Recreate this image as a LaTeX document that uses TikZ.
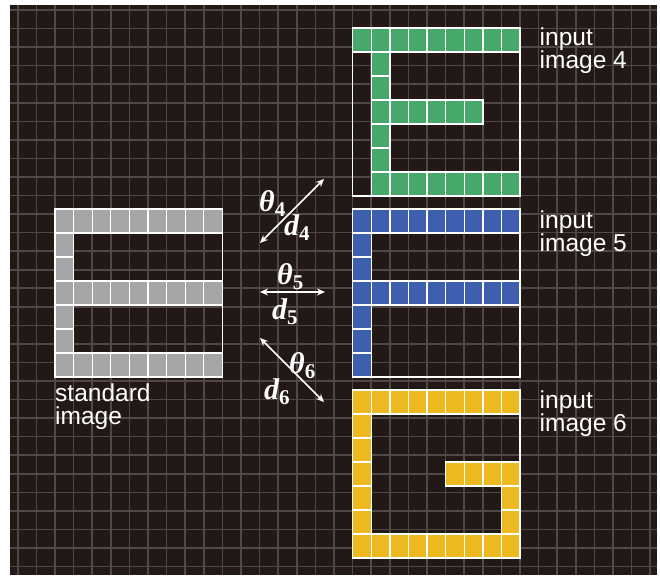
\documentclass[tikz,border=0pt]{standalone}
\usepackage{fontspec}
\newfontfamily\labelfont{Liberation Sans}
\newfontfamily\symfont{Liberation Serif}
\usetikzlibrary{arrows.meta}
\definecolor{bgdark}{RGB}{34,25,23}
\definecolor{gridcol}{RGB}{80,72,71}
\definecolor{pixgray}{RGB}{166,166,166}
\definecolor{pixgreen}{RGB}{70,168,106}
\definecolor{pixblue}{RGB}{62,94,176}
\definecolor{pixyellow}{RGB}{236,186,32}
\newcommand\mypixels[4]{%
  \foreach \cc/\rr in {#4} {
    \filldraw[pixel,fill=#3] ({#1+\cc*18.6},{#2+\rr*24}) rectangle ++(18.6,24);
  }%
}
\tikzset{
  pixel/.style={draw=white,line width=1.3pt},
  imgframe/.style={draw=white,line width=1.5pt,minimum width=167.4pt,minimum height=168pt,inner sep=0pt,outer sep=0pt,anchor=north west},
  caption/.style={text=white,font=\labelfont\fontsize{24.5}{24}\selectfont,anchor=base west,inner sep=0pt},
  sym/.style={text=white,font=\symfont\fontsize{30}{30}\selectfont\bfseries\itshape,anchor=base west,inner sep=0pt},
  dblarrow/.style={white,line width=1.5pt,{Stealth[length=8pt,width=7pt]}-{Stealth[length=8pt,width=7pt]}},
  gridline/.style={gridcol,line width=1.6pt},
}
\begin{document}
\begin{tikzpicture}[x=1pt,y=-1pt]
\useasboundingbox (0,0) rectangle (660,575);
\fill[white] (0,0) rectangle (660,575);
\fill[bgdark] (9.5,5) rectangle (657,575);
\foreach \k in {-2,...,32} \draw[gridline] ({55+18.6*\k},5) -- ({55+18.6*\k},575);
\foreach \k in {0,...,30} \draw[gridline] (9.5,{10+18.55*\k}) -- (657,{10+18.55*\k});

% standard image (E)
\mypixels{55}{209}{pixgray}{0/0,1/0,2/0,3/0,4/0,5/0,6/0,7/0,8/0,0/1,0/2,0/3,1/3,2/3,3/3,4/3,5/3,6/3,7/3,8/3,0/4,0/5,0/6,1/6,2/6,3/6,4/6,5/6,6/6,7/6,8/6}
\node[imgframe] (std) at (55,209) {};
% input image 4 (green)
\mypixels{352.7}{28}{pixgreen}{0/0,1/0,2/0,3/0,4/0,5/0,6/0,7/0,8/0,1/1,1/2,1/3,2/3,3/3,4/3,5/3,6/3,1/4,1/5,1/6,2/6,3/6,4/6,5/6,6/6,7/6,8/6}
\node[imgframe] (img4) at (352.7,28) {};
% input image 5 (blue)
\mypixels{352.7}{209}{pixblue}{0/0,1/0,2/0,3/0,4/0,5/0,6/0,7/0,8/0,0/1,0/2,0/3,1/3,2/3,3/3,4/3,5/3,6/3,7/3,8/3,0/4,0/5,0/6}
\node[imgframe] (img5) at (352.7,209) {};
% input image 6 (yellow)
\mypixels{352.7}{390}{pixyellow}{0/0,1/0,2/0,3/0,4/0,5/0,6/0,7/0,8/0,0/1,0/2,0/3,5/3,6/3,7/3,8/3,0/4,8/4,0/5,8/5,0/6,1/6,2/6,3/6,4/6,5/6,6/6,7/6,8/6}
\node[imgframe] (img6) at (352.7,390) {};

% captions
\node[caption] (c4a) at (539.5,46) {input};
\node[caption] (c4b) at (539.5,69) {image 4};
\node[caption] (c5a) at (539.5,228) {input};
\node[caption] (c5b) at (539.5,251) {image 5};
\node[caption] (c6a) at (539.5,408) {input};
\node[caption] (c6b) at (539.5,431) {image 6};
\node[caption] (csa) at (55,401.5) {standard};
\node[caption] (csb) at (55,424) {image};

% arrows
\coordinate (a4s) at (260,243); \coordinate (a4e) at (324,179);
\coordinate (a5s) at (260,292); \coordinate (a5e) at (325,292);
\coordinate (a6s) at (260,338); \coordinate (a6e) at (324,402);
\draw[dblarrow] (a4s) -- (a4e);
\draw[dblarrow] (a5s) -- (a5e);
\draw[dblarrow] (a6s) -- (a6e);

% symbols
\node[sym] (t4) at (259,211) {θ\textsubscript{\upshape 4}};
\node[sym] (d4) at (284,235) {d\textsubscript{\upshape 4}};
\node[sym] (t5) at (277,284) {θ\textsubscript{\upshape 5}};
\node[sym] (d5) at (272,319) {d\textsubscript{\upshape 5}};
\node[sym] (t6) at (289,373) {θ\textsubscript{\upshape 6}};
\node[sym] (d6) at (264,399) {d\textsubscript{\upshape 6}};
\end{tikzpicture}
\end{document}
